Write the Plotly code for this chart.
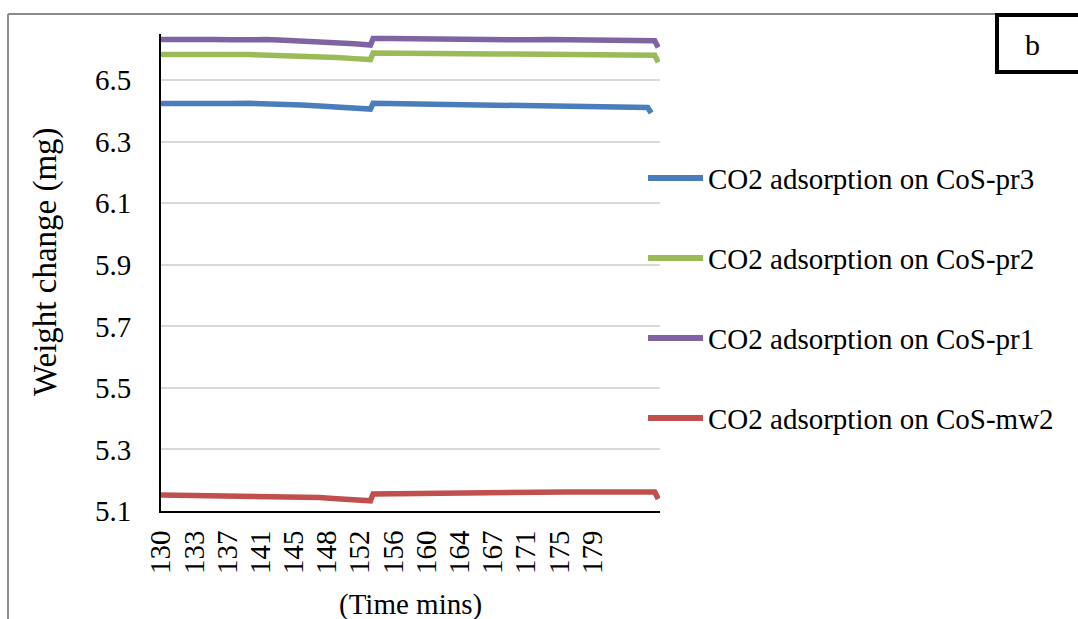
import plotly.graph_objects as go

# ---------------- data ----------------
series_names = [
    "CO2 adsorption on CoS-pr3",
    "CO2 adsorption on CoS-pr2",
    "CO2 adsorption on CoS-pr1",
    "CO2 adsorption on CoS-mw2",
]
series_colors = ["#4A7EBB", "#9BBB59", "#8064A2", "#C0504D"]

time_main = [130, 132, 134, 136, 138, 140, 142, 144, 146, 148, 150, 152, 153.8, 154.1,
             156, 158, 160, 162, 164, 166, 168, 170, 172, 174, 176, 178, 180, 182, 184,
             186.1, 186.5]
time_pr3 = [130, 132, 134, 136, 138, 140, 142, 144, 146, 148, 150, 152, 153.8, 154.1,
            156, 158, 160, 162, 164, 166, 168, 170, 172, 174, 176, 178, 180, 182, 184,
            185.3, 185.7]

pr3 = [6.424, 6.423, 6.424, 6.423, 6.424, 6.425, 6.424, 6.422, 6.419, 6.416, 6.412, 6.409,
       6.406, 6.425, 6.424, 6.424, 6.423, 6.422, 6.422, 6.421, 6.421, 6.420, 6.419, 6.418,
       6.417, 6.416, 6.415, 6.414, 6.413, 6.411, 6.393]
pr2 = [6.583, 6.584, 6.583, 6.584, 6.583, 6.583, 6.582, 6.581, 6.579, 6.577, 6.574, 6.570,
       6.567, 6.588, 6.587, 6.587, 6.586, 6.586, 6.585, 6.586, 6.585, 6.585, 6.584, 6.584,
       6.583, 6.583, 6.582, 6.582, 6.582, 6.581, 6.558]
pr1 = [6.632, 6.633, 6.631, 6.632, 6.631, 6.633, 6.632, 6.630, 6.628, 6.625, 6.621, 6.618,
       6.614, 6.635, 6.635, 6.634, 6.634, 6.633, 6.634, 6.632, 6.633, 6.632, 6.631, 6.632,
       6.631, 6.630, 6.631, 6.630, 6.629, 6.628, 6.606]
mw2 = [5.152, 5.151, 5.152, 5.151, 5.150, 5.151, 5.150, 5.149, 5.147, 5.144, 5.140, 5.136,
       5.133, 5.155, 5.156, 5.156, 5.157, 5.157, 5.158, 5.159, 5.159, 5.160, 5.161, 5.161,
       5.162, 5.162, 5.163, 5.163, 5.163, 5.162, 5.139]

x_tick_labels = ["130", "133", "137", "141", "145", "148", "152", "156", "160", "164",
                 "167", "171", "175", "179"]
x_tick_pos = [130.0, 133.77, 137.54, 141.31, 145.08, 148.85, 152.62, 156.39, 160.16,
              163.93, 167.7, 171.47, 175.24, 179.01]
y_tick_vals = [5.1, 5.3, 5.5, 5.7, 5.9, 6.1, 6.3, 6.5]

# ---------------- layout geometry ----------------
W, H = 1078, 619
L, R, T, B = 161, 660, 34, 511  # plot area pixel box
FONT = "Liberation Serif"


def px(x):
    return (x - L) / (R - L)


def py(y):
    return (B - y) / (B - T)


fig = go.Figure()
xs = [time_pr3, time_main, time_main, time_main]
ys = [pr3, pr2, pr1, mw2]
for name, color, x, y in zip(series_names, series_colors, xs, ys):
    fig.add_trace(go.Scatter(x=x, y=y, mode="lines", name=name,
                             line=dict(color=color, width=5.5),
                             showlegend=False))

shapes = []
annotations = []
# custom legend
legend_y = [178, 258, 338, 418]
for name, color, ly in zip(series_names, series_colors, legend_y):
    shapes.append(dict(type="line", xref="paper", yref="paper",
                       x0=px(648), x1=px(703), y0=py(ly), y1=py(ly),
                       line=dict(color=color, width=6)))
    annotations.append(dict(text=name, xref="paper", yref="paper",
                            x=px(706), y=py(ly + 1), xanchor="left", yanchor="middle",
                            showarrow=False, font=dict(family=FONT, size=29, color="black")))

# outer chart border (top and left)
shapes.append(dict(type="line", xref="paper", yref="paper",
                   x0=px(8), x1=px(1090), y0=py(14), y1=py(14),
                   line=dict(color="#8C8C8C", width=2)))
shapes.append(dict(type="line", xref="paper", yref="paper",
                   x0=px(8), x1=px(8), y0=py(14), y1=py(640),
                   line=dict(color="#8C8C8C", width=2)))
# "b" label box
shapes.append(dict(type="rect", xref="paper", yref="paper",
                   x0=px(997), x1=px(1095), y0=py(15), y1=py(72),
                   line=dict(color="black", width=4), fillcolor="white"))
annotations.append(dict(text="b", xref="paper", yref="paper", x=px(1032), y=py(45),
                        xanchor="center", yanchor="middle", showarrow=False,
                        font=dict(family=FONT, size=30, color="black")))
# axis titles
annotations.append(dict(text="Weight change (mg)", xref="paper", yref="paper",
                        x=px(45), y=py(262), textangle=-90, xanchor="center",
                        yanchor="middle", showarrow=False,
                        font=dict(family=FONT, size=33, color="black")))
annotations.append(dict(text="(Time mins)", xref="paper", yref="paper",
                        x=px(410), y=py(604), xanchor="center", yanchor="middle",
                        showarrow=False, font=dict(family=FONT, size=29, color="black")))

fig.update_layout(
    width=W, height=H,
    margin=dict(l=L, r=W - R, t=T, b=H - B, pad=0),
    paper_bgcolor="white", plot_bgcolor="white",
    font=dict(family=FONT, size=29, color="black"),
    shapes=shapes, annotations=annotations,
    showlegend=False,
)
fig.update_xaxes(range=[130, 186.7], tickmode="array", tickvals=x_tick_pos,
                 ticktext=x_tick_labels, tickangle=-90, showgrid=False,
                 showline=True, linecolor="black", linewidth=2, ticks="",
                 ticklabelstandoff=6, zeroline=False,
                 tickfont=dict(family=FONT, size=29, color="black"))
fig.update_yaxes(range=[5.1, 6.65], tickmode="array", tickvals=y_tick_vals,
                 ticktext=[f"{v:.1f}" for v in y_tick_vals],
                 showgrid=True, gridcolor="#D9D9D9", gridwidth=1.5,
                 showline=True, linecolor="black", linewidth=2, ticks="",
                 ticklabelstandoff=22, zeroline=False,
                 tickfont=dict(family=FONT, size=29, color="black"))

fig.write_html("out.html")
